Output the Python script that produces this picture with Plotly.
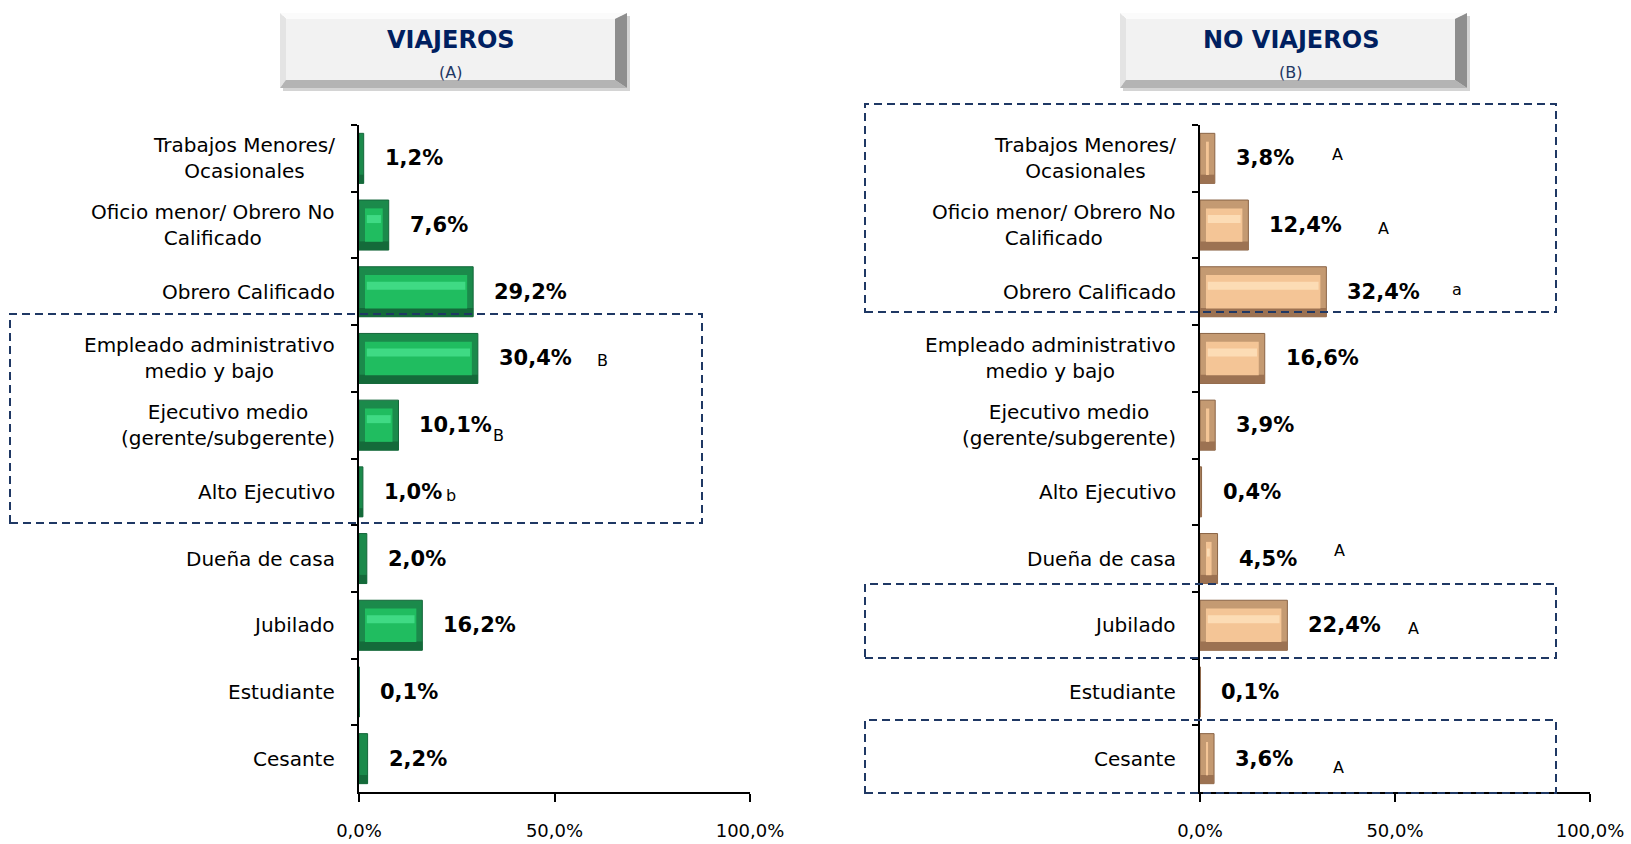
import plotly.graph_objects as go

W, H = 1631, 844

# ---------------- data ----------------
categories = [
    "Trabajos Menores/<br>Ocasionales",
    "Oficio menor/ Obrero No<br>Calificado",
    "Obrero Calificado",
    "Empleado administrativo<br>medio y bajo",
    "Ejecutivo medio<br>(gerente/subgerente)",
    "Alto Ejecutivo",
    "Dueña de casa",
    "Jubilado",
    "Estudiante",
    "Cesante",
]
viajeros = [1.2, 7.6, 29.2, 30.4, 10.1, 1.0, 2.0, 16.2, 0.1, 2.2]
no_viajeros = [3.8, 12.4, 32.4, 16.6, 3.9, 0.4, 4.5, 22.4, 0.1, 3.6]
letters_viajeros = ["", "", "", "B", "B", "b", "", "", "", ""]
letters_no_viajeros = ["A", "A", "a", "", "", "", "A", "A", "", "A"]
x_tickvals = [0, 50, 100]
x_ticktext = ["0,0%", "50,0%", "100,0%"]
panel_titles = ["VIAJEROS", "NO VIAJEROS"]
panel_subtitles = ["(A)", "(B)"]

# ---------------- styles ----------------
letter_dx_v = [0, 0, 0, 125, 100, 88, 0, 0, 0, 0]
letter_dy_v = [0, 0, 0, -2, -10, -4, 0, 0, 0, 0]
letter_dx_n = [123, 135, 131, 0, 0, 0, 122, 126, 0, 124]
letter_dy_n = [4, -3, 2, 0, 0, 0, 8, -3, 0, -9]

FONT = "DejaVu Sans"
NAVY = "#1F3864"


def px(x):
    return x / W


def py(y):
    return 1 - y / H


left_dom = [px(359), px(750)]
right_dom = [px(1200), px(1590)]
y_dom = [py(792), py(125)]

fig = go.Figure()

inset = 6 / 391 * 100  # ~6 px bevel in data units


def add_bars(vals, xa, ya, outer, dark, face, hi, edge):
    common = dict(y=categories, orientation="h", xaxis=xa, yaxis=ya,
                  showlegend=False, hoverinfo="skip")
    fig.add_trace(go.Bar(x=vals, width=0.75,
                         marker=dict(color=outer, line=dict(color=edge, width=1)), **common))
    fig.add_trace(go.Bar(x=vals, width=0.13, offset=0.245,
                         marker=dict(color=dark, line=dict(width=0)), **common))
    fvals = [max(v - 2 * inset, 0) for v in vals]
    fig.add_trace(go.Bar(x=fvals, base=[inset if f > 0 else 0 for f in fvals], width=0.5,
                         marker=dict(color=face, line=dict(width=0)), **common))
    hvals = [max(v - 2.6 * inset, 0) for v in vals]
    fig.add_trace(go.Bar(x=hvals, base=[1.3 * inset if h > 0 else 0 for h in hvals],
                         width=0.12, offset=-0.15,
                         marker=dict(color=hi, line=dict(width=0)), **common))


add_bars(viajeros, "x", "y", "#1B8A4B", "#146A3A", "#20BD60", "#3FDA84", "#14663A")
add_bars(no_viajeros, "x2", "y2", "#C49A72", "#9C7252", "#F4C596", "#FCDCB5", "#8A6446")

axis_common = dict(
    showline=True, linecolor="black", linewidth=1.5, automargin=False,
    showgrid=False, zeroline=False, ticks="outside", tickcolor="black",
)

xa = dict(axis_common, range=[0, 100], tickvals=x_tickvals, ticktext=x_ticktext,
          ticklen=8, tickwidth=1.5, ticklabelstandoff=14,
          tickfont=dict(family=FONT, size=18, color="black"), fixedrange=True)
ya = dict(axis_common, type="category", categoryorder="array", categoryarray=categories,
          autorange="reversed", tickson="boundaries", ticklen=6, tickwidth=1.5,
          showticklabels=False, domain=y_dom, fixedrange=True)

fig.update_layout(
    xaxis=dict(xa, domain=left_dom, anchor="y"),
    yaxis=dict(ya, anchor="x"),
    xaxis2=dict(xa, domain=right_dom, anchor="y2"),
    yaxis2=dict(ya, anchor="x2"),
    barmode="overlay",
    width=W, height=H, autosize=False,
    margin=dict(l=0, r=0, t=0, b=0, pad=0),
    paper_bgcolor="white", plot_bgcolor="rgba(0,0,0,0)",
    font=dict(family=FONT, color="black"),
)

annotations = []
for xr, yr, vals, letters, dxs, dys in [
    ("x", "y", viajeros, letters_viajeros, letter_dx_v, letter_dy_v),
    ("x2", "y2", no_viajeros, letters_no_viajeros, letter_dx_n, letter_dy_n),
]:
    for cat, v, let, dx, dy in zip(categories, vals, letters, dxs, dys):
        annotations.append(dict(
            xref=xr, yref=yr, x=0, y=cat, text=cat, showarrow=False,
            xanchor="right", yanchor="middle", xshift=-22, align="center",
            font=dict(family=FONT, size=20, color="black")))
        annotations.append(dict(
            xref=xr, yref=yr, x=v, y=cat,
            text="<b>" + f"{v:.1f}%".replace(".", ",") + "</b>",
            showarrow=False, xanchor="left", yanchor="middle", xshift=19,
            font=dict(family=FONT, size=21, color="black")))
        if let:
            annotations.append(dict(
                xref=xr, yref=yr, x=v, y=cat, text=let, showarrow=False,
                xanchor="center", yanchor="middle", xshift=dx, yshift=dy,
                font=dict(family=FONT, size=16, color="black")))

shapes = []


def bevel_box(x0, y0, x1, y1):
    bt, bl, br, bb = 6, 6, 12, 8
    out = []

    def poly(pts, color):
        d = "M " + " L ".join(f"{px(a):.5f},{py(b):.5f}" for a, b in pts) + " Z"
        out.append(dict(type="path", xref="paper", yref="paper", path=d,
                        fillcolor=color, line=dict(width=0), layer="below"))
    poly([(x0 + 3, y0 + 3), (x1 + 3, y0 + 3), (x1 + 3, y1 + 3), (x0 + 3, y1 + 3)], "#D4D4D4")
    poly([(x0, y0), (x1, y0), (x1 - br, y0 + bt), (x0 + bl, y0 + bt)], "#FBFBFB")
    poly([(x0, y0), (x0 + bl, y0 + bt), (x0 + bl, y1 - bb), (x0, y1)], "#E4E4E4")
    poly([(x1, y0), (x1, y1), (x1 - br, y1 - bb), (x1 - br, y0 + bt)], "#8E8E8E")
    poly([(x0, y1), (x1, y1), (x1 - br, y1 - bb), (x0 + bl, y1 - bb)], "#B4B4B4")
    poly([(x0 + bl, y0 + bt), (x1 - br, y0 + bt), (x1 - br, y1 - bb), (x0 + bl, y1 - bb)], "#F2F2F2")
    return out


for (bx0, bx1), title, sub in zip([(280, 627), (1120, 1467)], panel_titles, panel_subtitles):
    shapes += bevel_box(bx0, 13, bx1, 88)
    cx = (bx0 + bx1 - 6) / 2
    annotations.append(dict(xref="paper", yref="paper", x=px(cx), y=py(40), text="<b>" + title + "</b>",
                            showarrow=False, xanchor="center", yanchor="middle",
                            font=dict(family=FONT, size=24, color="#002060")))
    annotations.append(dict(xref="paper", yref="paper", x=px(cx), y=py(72), text=sub,
                            showarrow=False, xanchor="center", yanchor="middle",
                            font=dict(family=FONT, size=16, color="#1F3864")))

for (x0, y0, x1, y1) in [(10, 314, 702, 523), (865, 104, 1556, 312),
                         (865, 584, 1556, 658), (865, 720, 1556, 793)]:
    shapes.append(dict(type="rect", xref="paper", yref="paper",
                       x0=px(x0), x1=px(x1), y0=py(y1), y1=py(y0),
                       line=dict(color=NAVY, width=2, dash="8px,5px"),
                       fillcolor="rgba(0,0,0,0)", layer="above"))

fig.update_layout(annotations=annotations, shapes=shapes)
fig.write_html("out.html", config={"displayModeBar": False},
               post_script="document.body.style.margin='0';document.body.style.overflow='hidden';")
